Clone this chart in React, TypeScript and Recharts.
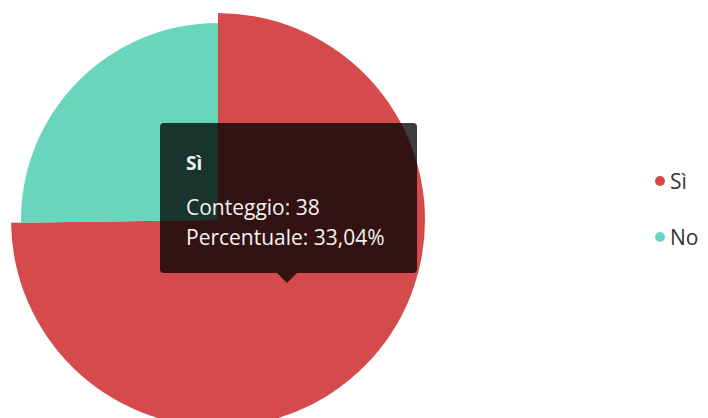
import React from "react";
import { PieChart, Pie, Cell, Tooltip, Legend } from "recharts";

const categories = ["Sì", "No"];
const counts = [86, 29];
const colors = ["#d54b4b", "#6ad5bd"];

// text shown in the hover box of the reference
const tooltipTitle = "Sì";
const tooltipLines = ["Conteggio: 38", "Percentuale: 33,04%"];

const data = categories.map((name, i) => ({ name, value: counts[i] }));

const FONT = "'Open Sans', 'Noto Sans', sans-serif";

function HoverBox() {
    return (
        <div style={{ position: "relative", fontFamily: FONT }}>
            <div
                style={{
                    width: 257,
                    height: 150,
                    boxSizing: "border-box",
                    background: "rgba(0,0,0,0.76)",
                    borderRadius: 4,
                    padding: "25px 26px",
                    color: "#f2f2f2",
                }}
            >
                <div style={{ fontWeight: 700, fontSize: 19, lineHeight: "30px" }}>{tooltipTitle}</div>
                <div style={{ height: 14 }} />
                {tooltipLines.map((t) => (
                    <div key={t} style={{ fontSize: 21, lineHeight: "30px", whiteSpace: "nowrap" }}>
                        {t}
                    </div>
                ))}
            </div>
            <div
                style={{
                    position: "absolute",
                    left: 117,
                    top: 150,
                    width: 0,
                    height: 0,
                    borderLeft: "10px solid transparent",
                    borderRight: "10px solid transparent",
                    borderTop: "10px solid rgba(0,0,0,0.76)",
                }}
            />
        </div>
    );
}

function LegendList() {
    return (
        <div style={{ fontFamily: FONT }}>
            {categories.map((c, i) => (
                <div key={c} style={{ display: "flex", alignItems: "center", height: 56, fontSize: 21, color: "#333" }}>
                    <span
                        style={{
                            width: 10,
                            height: 10,
                            borderRadius: 5,
                            background: colors[i],
                            marginRight: 5,
                            display: "inline-block",
                        }}
                    />
                    {c}
                </div>
            ))}
        </div>
    );
}

export default function App() {
    return (
        <div style={{ position: "absolute", left: 0, top: 0, background: "#fff" }}>
            <PieChart width={708} height={418} margin={{ top: 0, right: 0, bottom: 0, left: 0 }}>
                {/* hovered slice is drawn bigger */}
                <Pie
                    data={data}
                    dataKey="value"
                    nameKey="name"
                    cx={218}
                    cy={220}
                    outerRadius={207}
                    startAngle={90}
                    endAngle={-270}
                    stroke="none"
                    isAnimationActive={false}
                >
                    <Cell fill={colors[0]} />
                    <Cell fill="transparent" />
                </Pie>
                <Pie
                    data={data}
                    dataKey="value"
                    nameKey="name"
                    cx={218}
                    cy={220}
                    outerRadius={197}
                    startAngle={90}
                    endAngle={-270}
                    stroke="none"
                    legendType="none"
                    isAnimationActive={false}
                >
                    <Cell fill="transparent" />
                    <Cell fill={colors[1]} />
                </Pie>
                <Legend
                    content={() => <LegendList />}
                    wrapperStyle={{ position: "absolute", left: 655, top: 153, width: 60 }}
                />
                <Tooltip
                    active
                    defaultIndex={0}
                    position={{ x: 160, y: 123 }}
                    content={() => <HoverBox />}
                    isAnimationActive={false}
                    wrapperStyle={{ outline: "none" }}
                />
            </PieChart>
        </div>
    );
}
